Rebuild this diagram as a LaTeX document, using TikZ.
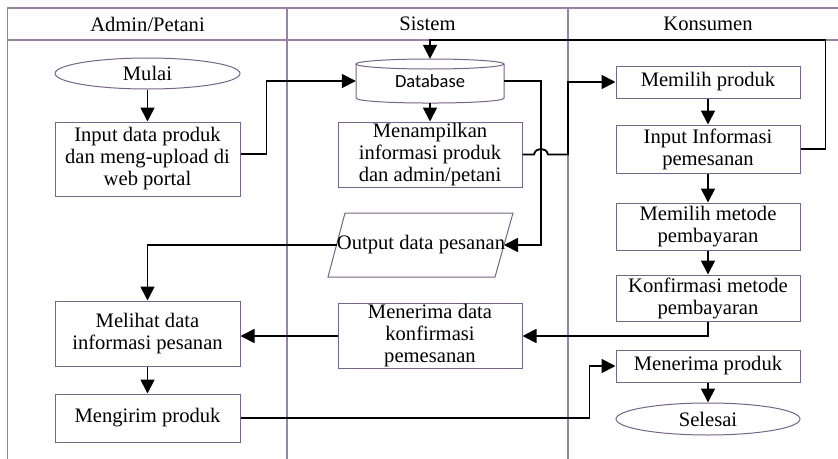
\documentclass[tikz,border=0pt]{standalone}
\usepackage{fontspec}
\setmainfont{Liberation Serif}
\newfontfamily\calib{Carlito}
\usetikzlibrary{arrows.meta,shapes.geometric}
\definecolor{framec}{RGB}{152,132,162}
\definecolor{boxc}{RGB}{120,100,135}
\begin{document}
\begin{tikzpicture}[x=1pt,y=-1pt,
  lane/.style={draw=framec,line width=1.6pt},
  txt/.style={font=\fontsize{20.6}{22}\selectfont,align=center,inner sep=1pt},
  box/.style={txt,draw=boxc,line width=1pt,fill=white,rectangle},
  oval/.style={txt,draw=boxc,line width=1pt,fill=white,ellipse,inner sep=0pt},
  shapeline/.style={draw=boxc,line width=1pt,fill=white},
  arr/.style={draw=black,line width=1.8pt,-{Triangle[length=14pt,width=14pt]}},
]
\useasboundingbox (0,0) rectangle (838,458);
\fill[white] (0,0) rectangle (838,458);
% swimlane frame
\draw[lane] (7.5,462) -- (7.5,8) -- (842,8);
\draw[lane] (7.5,40) -- (842,40);
\draw[lane] (287,8) -- (287,462);
\draw[lane] (568,8) -- (568,462);
\node[txt] (h1) at (147.5,24) {Admin/Petani};
\node[txt] (h2) at (427.5,24) {Sistem};
\node[txt] (h3) at (708,24) {Konsumen};

% Admin/Petani lane
\node[oval,minimum width=185,minimum height=31] (start) at (147.5,73.5) {Mulai};
\node[box,minimum width=185,minimum height=74] (inp) at (147.5,159) {Input data produk\\dan meng-upload di\\web portal};
\node[box,minimum width=185,minimum height=65] (lihat) at (147.5,333.5) {Melihat data\\informasi pesanan};
\node[box,minimum width=185,minimum height=48] (kirim) at (147.5,418) {Mengirim produk};

% Sistem lane
\fill[white] (356,64) -- (356,98) .. controls (356,104.7) and (504,104.7) .. (504,98) -- (504,64) -- cycle;
\draw[shapeline] (356,64) -- (356,98) .. controls (356,104.7) and (504,104.7) .. (504,98) -- (504,64);
\draw[shapeline] (430,64) ellipse [x radius=74, y radius=5];
\node[inner sep=0pt,minimum width=148,minimum height=44] (db) at (430,81) {\calib\fontsize{18.5}{20}\selectfont Database};
\node[box,minimum width=184,minimum height=65] (tampil) at (430,154.5) {Menampilkan\\informasi produk\\dan admin/petani};
\draw[shapeline] (345,213) -- (513,213) -- (495,277) -- (328,277) -- cycle;
\node[txt,inner sep=0pt] (out) at (421,245) {Output data pesanan};
\coordinate (outL) at (336.5,245);
\coordinate (outR) at (504,245);
\node[box,minimum width=184,minimum height=64] (terima) at (430,336) {Menerima data\\konfirmasi\\pemesanan};

% Konsumen lane
\node[box,minimum width=184,minimum height=32] (pilih) at (708,82) {Memilih produk};
\node[box,minimum width=184,minimum height=48] (info) at (708,149) {Input Informasi\\pemesanan};
\node[box,minimum width=184,minimum height=47] (metode) at (708,226.5) {Memilih metode\\pembayaran};
\node[box,minimum width=184,minimum height=46] (konf) at (708,298) {Konfirmasi metode\\pembayaran};
\node[box,minimum width=184,minimum height=32] (trm) at (708,366) {Menerima produk};
\node[oval,minimum width=184,minimum height=32] (end) at (708,419) {Selesai};

% connectors
\draw[arr] (start) -- (inp);
\draw[arr] ([yshift=5pt]inp.east) -- ++(26,0) |- (db.west);
\draw[arr] (db.south) -- (tampil.north);
\draw[arr] (db.east) -- ++(37,0) |- (outR);
\draw[arr] (tampil.east) -- (534,154.5) .. controls (535.5,147) and (546.5,147) .. (548,154.5) -- (568,154.5) |- (pilih.west);
\draw[arr] (pilih) -- (info);
\draw[arr] (info.east) -- ++(25,0) -- ++(0,-109) -| (db.north);
\draw[arr] (info) -- (metode);
\draw[arr] (metode) -- (konf);
\draw[arr] (konf.south) |- (terima.east);
\draw[arr] (terima.west) -- (terima.west -| lihat.east);
\draw[arr] (outL) -| (lihat.north);
\draw[arr] (lihat) -- (kirim);
\draw[arr] (kirim.east) -- ++(349,0) |- (trm.west);
\draw[arr] (trm) -- (end);
\end{tikzpicture}
\end{document}
